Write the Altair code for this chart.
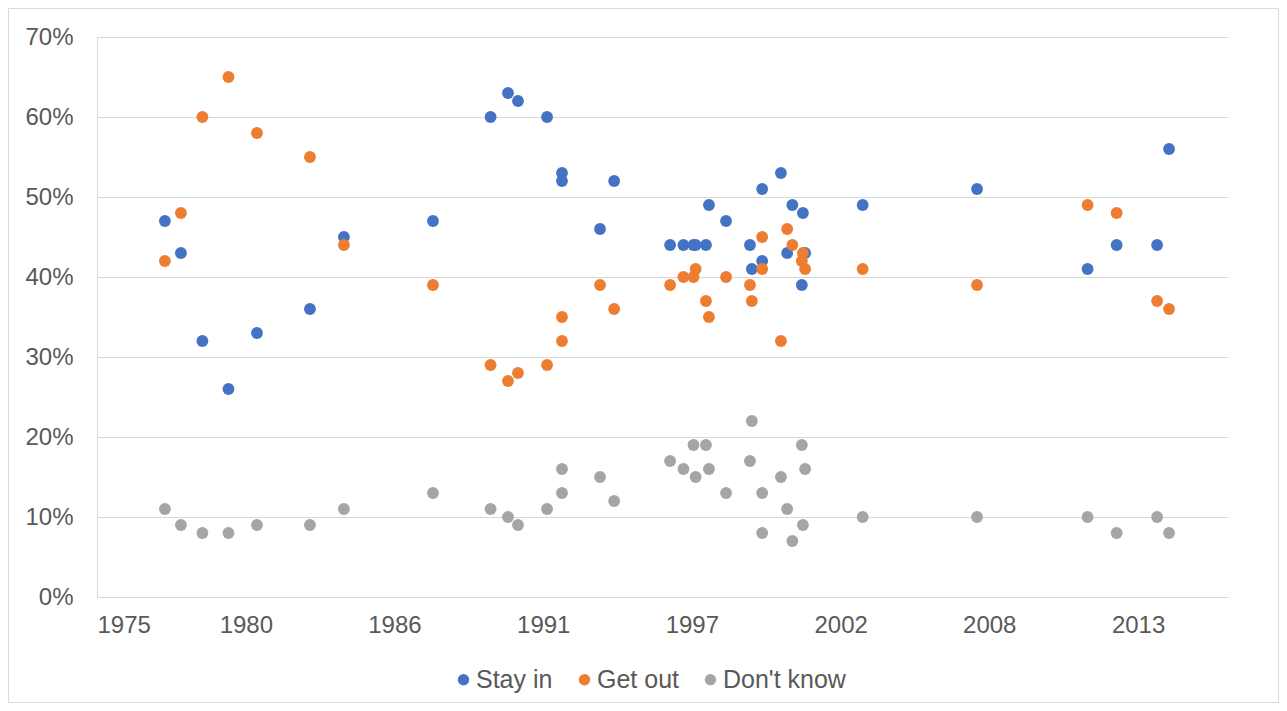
import altair as alt
import pandas as pd

# Poll dates (decimal years) and results (%)
YEARS = [1977.80, 1978.39, 1979.18, 1980.14, 1981.19, 1983.14, 1984.39, 1987.67,
         1989.79, 1990.43, 1990.80, 1991.87, 1992.42, 1992.42, 1993.82, 1994.34,
         1996.40, 1996.89, 1997.26, 1997.34, 1997.72, 1997.83, 1998.46,
         1999.34, 1999.41, 1999.79, 1999.79, 2000.48, 2000.71, 2000.90,
         2001.25, 2001.29, 2001.37, 2003.49, 2007.70, 2011.77, 2012.84, 2014.33, 2014.77]
STAY_IN = [47, 43, 32, 26, 33, 36, 45, 47,
           60, 63, 62, 60, 53, 52, 46, 52,
           44, 44, 44, 44, 44, 49, 47,
           44, 41, 42, 51, 53, 43, 49,
           39, 48, 43, 49, 51, 41, 44, 44, 56]
GET_OUT = [42, 48, 60, 65, 58, 55, 44, 39,
           29, 27, 28, 29, 32, 35, 39, 36,
           39, 40, 40, 41, 37, 35, 40,
           39, 37, 45, 41, 32, 46, 44,
           42, 43, 41, 41, 39, 49, 48, 37, 36]
DONT_KNOW = [11, 9, 8, 8, 9, 9, 11, 13,
             11, 10, 9, 11, 16, 13, 15, 12,
             17, 16, 19, 15, 19, 16, 13,
             17, 22, 13, 8, 15, 11, 7,
             19, 9, 16, 10, 10, 10, 8, 10, 8]

SERIES = ["Stay in", "Get out", "Don't know"]
COLORS = ["#4472C4", "#ED7D31", "#A5A5A5"]

X_DOMAIN = [1975.30, 2016.94]
X_TICKS = [1975.30, 1980.78, 1986.25, 1991.73, 1997.20, 2002.68, 2008.15, 2013.63]
Y_TICKS = [0, 10, 20, 30, 40, 50, 60, 70]

rows = []
for name, vals in zip(SERIES, [STAY_IN, GET_OUT, DONT_KNOW]):
    for yr, v in zip(YEARS, vals):
        rows.append({"year": yr, "pct": v, "series": name})
df = pd.DataFrame(rows)

FONT = "Liberation Sans"
TXT = "#595959"
GRID = "#D9D9D9"

points = alt.Chart(df).mark_circle(size=140, opacity=1).encode(
    x=alt.X("year:Q",
            scale=alt.Scale(domain=X_DOMAIN, nice=False, zero=False),
            axis=alt.Axis(values=X_TICKS, labelExpr="'' + floor(datum.value)",
                          title=None, grid=False, ticks=False, tickSize=0,
                          labelPadding=16, domainColor=GRID,
                          labelFont=FONT, labelFontSize=24, labelColor=TXT)),
    y=alt.Y("pct:Q",
            scale=alt.Scale(domain=[0, 70], nice=False),
            axis=alt.Axis(values=Y_TICKS, labelExpr="datum.value + '%'",
                          title=None, grid=True, gridColor=GRID, ticks=False,
                          tickSize=0, labelPadding=24, domainColor=GRID,
                          labelFont=FONT, labelFontSize=24, labelColor=TXT)),
    color=alt.Color("series:N",
                    scale=alt.Scale(domain=SERIES, range=COLORS),
                    sort=SERIES,
                    legend=alt.Legend(title=None, orient="none", direction="horizontal",
                                      legendX=354, legendY=630, symbolType="circle",
                                      symbolSize=130, symbolOpacity=1,
                                      labelFont=FONT, labelFontSize=25,
                                      labelColor=TXT, labelOffset=0,
                                      columnPadding=19, padding=0)),
    order=alt.Order("order:Q"),
).transform_calculate(
    order="datum.series == 'Stay in' ? 0 : (datum.series == 'Get out' ? 1 : 2)"
)

frame = alt.Chart(alt.Data(values=[{"a": 1}])).mark_rect(
    fill="transparent", stroke=GRID, strokeWidth=1
).encode(
    x=alt.value(-88.5), x2=alt.value(1181.5),
    y=alt.value(-28.5), y2=alt.value(665.5),
)

chart = alt.layer(frame, points).properties(
    width=1131, height=560,
    padding={"left": 89, "top": 29, "right": 51, "bottom": 106},
    autosize=alt.AutoSizeParams(type="none"),
    background="white",
).configure_view(strokeWidth=0)

chart.save("out.html", embed_options={"renderer": "svg", "actions": False})
